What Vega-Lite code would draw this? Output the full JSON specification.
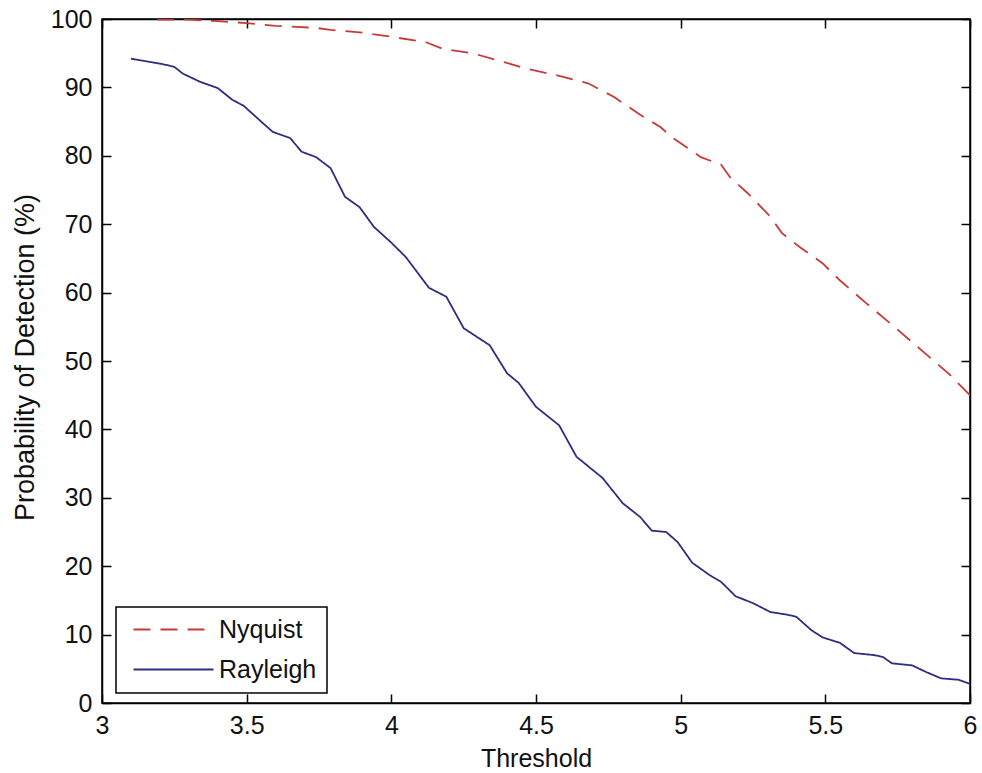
{
  "$schema": "https://vega.github.io/schema/vega-lite/v6.json",
  "width": 868,
  "height": 684,
  "autosize": {"type": "none"},
  "padding": {"left": 102, "top": 19, "right": 12, "bottom": 70},
  "background": "white",
  "config": {
    "view": {"stroke": "black", "strokeWidth": 1.5},
    "font": "Liberation Sans",
    "axis": {
      "domainColor": "black", "domainWidth": 1.5,
      "tickColor": "black", "tickWidth": 1.5, "tickSize": -9,
      "labelFont": "Liberation Sans", "labelFontSize": 25, "labelColor": "#111111",
      "titleFont": "Liberation Sans", "titleFontSize": 25, "titleColor": "#111111", "titleFontWeight": "normal",
      "grid": false
    },
    "legend": {"strokeWidth": 1.5}
  },
  "datasets": {
    "curves": [
      {"threshold": 3.19, "pd": 99.9, "series": "Nyquist"},
      {"threshold": 3.30, "pd": 99.9, "series": "Nyquist"},
      {"threshold": 3.40, "pd": 99.7, "series": "Nyquist"},
      {"threshold": 3.50, "pd": 99.4, "series": "Nyquist"},
      {"threshold": 3.60, "pd": 99.0, "series": "Nyquist"},
      {"threshold": 3.74, "pd": 98.7, "series": "Nyquist"},
      {"threshold": 3.79, "pd": 98.4, "series": "Nyquist"},
      {"threshold": 3.90, "pd": 98.0, "series": "Nyquist"},
      {"threshold": 4.00, "pd": 97.4, "series": "Nyquist"},
      {"threshold": 4.09, "pd": 96.8, "series": "Nyquist"},
      {"threshold": 4.12, "pd": 96.6, "series": "Nyquist"},
      {"threshold": 4.18, "pd": 95.6, "series": "Nyquist"},
      {"threshold": 4.28, "pd": 95.0, "series": "Nyquist"},
      {"threshold": 4.39, "pd": 93.7, "series": "Nyquist"},
      {"threshold": 4.47, "pd": 92.7, "series": "Nyquist"},
      {"threshold": 4.57, "pd": 91.8, "series": "Nyquist"},
      {"threshold": 4.68, "pd": 90.6, "series": "Nyquist"},
      {"threshold": 4.77, "pd": 88.6, "series": "Nyquist"},
      {"threshold": 4.86, "pd": 86.0, "series": "Nyquist"},
      {"threshold": 4.93, "pd": 84.2, "series": "Nyquist"},
      {"threshold": 4.97, "pd": 82.7, "series": "Nyquist"},
      {"threshold": 5.07, "pd": 79.8, "series": "Nyquist"},
      {"threshold": 5.14, "pd": 78.7, "series": "Nyquist"},
      {"threshold": 5.17, "pd": 76.9, "series": "Nyquist"},
      {"threshold": 5.23, "pd": 74.6, "series": "Nyquist"},
      {"threshold": 5.31, "pd": 71.1, "series": "Nyquist"},
      {"threshold": 5.35, "pd": 68.7, "series": "Nyquist"},
      {"threshold": 5.41, "pd": 66.7, "series": "Nyquist"},
      {"threshold": 5.46, "pd": 65.2, "series": "Nyquist"},
      {"threshold": 5.49, "pd": 64.3, "series": "Nyquist"},
      {"threshold": 5.55, "pd": 61.8, "series": "Nyquist"},
      {"threshold": 5.64, "pd": 58.5, "series": "Nyquist"},
      {"threshold": 5.73, "pd": 55.3, "series": "Nyquist"},
      {"threshold": 5.84, "pd": 51.3, "series": "Nyquist"},
      {"threshold": 5.93, "pd": 48.0, "series": "Nyquist"},
      {"threshold": 6.00, "pd": 45.0, "series": "Nyquist"},
      {"threshold": 3.10, "pd": 94.2, "series": "Rayleigh"},
      {"threshold": 3.21, "pd": 93.4, "series": "Rayleigh"},
      {"threshold": 3.25, "pd": 93.0, "series": "Rayleigh"},
      {"threshold": 3.28, "pd": 92.0, "series": "Rayleigh"},
      {"threshold": 3.34, "pd": 90.8, "series": "Rayleigh"},
      {"threshold": 3.40, "pd": 89.9, "series": "Rayleigh"},
      {"threshold": 3.45, "pd": 88.2, "series": "Rayleigh"},
      {"threshold": 3.49, "pd": 87.3, "series": "Rayleigh"},
      {"threshold": 3.55, "pd": 85.0, "series": "Rayleigh"},
      {"threshold": 3.59, "pd": 83.5, "series": "Rayleigh"},
      {"threshold": 3.65, "pd": 82.6, "series": "Rayleigh"},
      {"threshold": 3.69, "pd": 80.6, "series": "Rayleigh"},
      {"threshold": 3.74, "pd": 79.8, "series": "Rayleigh"},
      {"threshold": 3.79, "pd": 78.2, "series": "Rayleigh"},
      {"threshold": 3.84, "pd": 74.0, "series": "Rayleigh"},
      {"threshold": 3.89, "pd": 72.5, "series": "Rayleigh"},
      {"threshold": 3.94, "pd": 69.6, "series": "Rayleigh"},
      {"threshold": 4.00, "pd": 67.3, "series": "Rayleigh"},
      {"threshold": 4.05, "pd": 65.2, "series": "Rayleigh"},
      {"threshold": 4.13, "pd": 60.7, "series": "Rayleigh"},
      {"threshold": 4.19, "pd": 59.4, "series": "Rayleigh"},
      {"threshold": 4.25, "pd": 54.8, "series": "Rayleigh"},
      {"threshold": 4.34, "pd": 52.3, "series": "Rayleigh"},
      {"threshold": 4.40, "pd": 48.2, "series": "Rayleigh"},
      {"threshold": 4.44, "pd": 46.8, "series": "Rayleigh"},
      {"threshold": 4.50, "pd": 43.3, "series": "Rayleigh"},
      {"threshold": 4.58, "pd": 40.6, "series": "Rayleigh"},
      {"threshold": 4.64, "pd": 36.0, "series": "Rayleigh"},
      {"threshold": 4.73, "pd": 32.9, "series": "Rayleigh"},
      {"threshold": 4.80, "pd": 29.2, "series": "Rayleigh"},
      {"threshold": 4.86, "pd": 27.2, "series": "Rayleigh"},
      {"threshold": 4.90, "pd": 25.2, "series": "Rayleigh"},
      {"threshold": 4.95, "pd": 25.0, "series": "Rayleigh"},
      {"threshold": 4.99, "pd": 23.5, "series": "Rayleigh"},
      {"threshold": 5.04, "pd": 20.5, "series": "Rayleigh"},
      {"threshold": 5.10, "pd": 18.7, "series": "Rayleigh"},
      {"threshold": 5.14, "pd": 17.7, "series": "Rayleigh"},
      {"threshold": 5.19, "pd": 15.6, "series": "Rayleigh"},
      {"threshold": 5.25, "pd": 14.6, "series": "Rayleigh"},
      {"threshold": 5.31, "pd": 13.3, "series": "Rayleigh"},
      {"threshold": 5.37, "pd": 12.9, "series": "Rayleigh"},
      {"threshold": 5.40, "pd": 12.6, "series": "Rayleigh"},
      {"threshold": 5.45, "pd": 10.7, "series": "Rayleigh"},
      {"threshold": 5.49, "pd": 9.6, "series": "Rayleigh"},
      {"threshold": 5.55, "pd": 8.8, "series": "Rayleigh"},
      {"threshold": 5.60, "pd": 7.3, "series": "Rayleigh"},
      {"threshold": 5.67, "pd": 7.0, "series": "Rayleigh"},
      {"threshold": 5.70, "pd": 6.7, "series": "Rayleigh"},
      {"threshold": 5.73, "pd": 5.8, "series": "Rayleigh"},
      {"threshold": 5.80, "pd": 5.5, "series": "Rayleigh"},
      {"threshold": 5.85, "pd": 4.5, "series": "Rayleigh"},
      {"threshold": 5.90, "pd": 3.6, "series": "Rayleigh"},
      {"threshold": 5.96, "pd": 3.4, "series": "Rayleigh"},
      {"threshold": 6.00, "pd": 2.8, "series": "Rayleigh"}
    ]
  },
  "data": {"name": "curves"},
  "resolve": {"axis": {"x": "independent", "y": "independent"}},
  "layer": [
    {
      "mark": {"type": "line", "strokeWidth": 1.8, "clip": true},
      "encoding": {
        "x": {
          "field": "threshold", "type": "quantitative",
          "scale": {"domain": [3, 6], "nice": false, "zero": false},
          "axis": {"values": [3, 3.5, 4, 4.5, 5, 5.5, 6], "format": "~g", "labelPadding": 19, "title": "Threshold", "titleX": 434, "titleY": 55, "titleBaseline": "middle", "labelFlush": false}
        },
        "y": {
          "field": "pd", "type": "quantitative",
          "scale": {"domain": [0, 100], "nice": false},
          "axis": {"values": [0, 10, 20, 30, 40, 50, 60, 70, 80, 90, 100], "format": "d", "labelPadding": 19, "title": "Probability of Detection (%)", "titleFontSize": 27, "titleX": -77, "titleY": 338, "titleAngle": -90, "titleBaseline": "middle", "titleAlign": "center", "labelFlush": false}
        },
        "color": {
          "field": "series", "type": "nominal",
          "scale": {"domain": ["Nyquist", "Rayleigh"], "range": ["#c83a3a", "#2e2e7e"]},
          "legend": {
            "title": null, "orient": "none", "legendX": 14, "legendY": 588,
            "fillColor": "white", "strokeColor": "black",
            "padding": 10, "symbolOffset": 35,
            "symbolType": "M-4,0H4", "symbolSize": 400, "symbolStrokeWidth": 1.8,
            "labelFont": "Liberation Sans", "labelFontSize": 25, "labelColor": "#111111",
            "labelOffset": 33, "rowPadding": 14
          }
        },
        "strokeDash": {
          "field": "series", "type": "nominal",
          "scale": {"domain": ["Nyquist", "Rayleigh"], "range": [[17, 10], [1, 0]]}
        }
      }
    },
    {
      "mark": {"type": "line", "opacity": 0},
      "encoding": {
        "x": {
          "field": "threshold", "type": "quantitative",
          "axis": {"orient": "top", "values": [3, 3.5, 4, 4.5, 5, 5.5, 6], "labels": false, "title": null}
        },
        "y": {
          "field": "pd", "type": "quantitative",
          "axis": {"orient": "right", "values": [0, 10, 20, 30, 40, 50, 60, 70, 80, 90, 100], "labels": false, "title": null}
        },
        "detail": {"field": "series"}
      }
    }
  ]
}
